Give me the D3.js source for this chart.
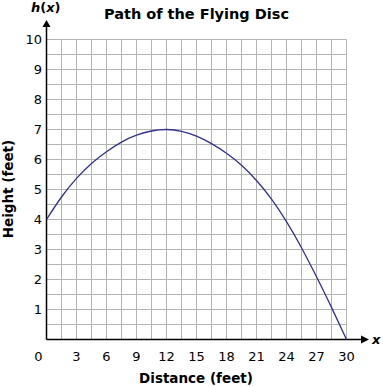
<!DOCTYPE html>
<html>
<head>
<meta charset="utf-8">
<style>
  body { margin: 0; background: #fff; }
  text { font-family: "DejaVu Sans", Verdana, sans-serif; fill: #000; }
</style>
</head>
<body>
<svg width="383" height="387"></svg>
<script src="https://d3js.org/d3.v7.min.js"></script>
<script>

// distance (feet) and height (feet)
var distance = [0, 1.5, 3, 4.5, 6, 7.5, 9, 10.5, 12, 13.5, 15, 16.5, 18, 19.5, 21, 22.5, 24, 25.5, 27, 28.5, 30];
var height = [4.0, 4.75, 5.37, 5.87, 6.26, 6.58, 6.81, 6.95, 7.0, 6.94, 6.78, 6.53, 6.21, 5.81, 5.30, 4.68, 3.93, 3.06, 2.09, 1.07, 0];

var xTicks = [0, 3, 6, 9, 12, 15, 18, 21, 24, 27, 30];
var yTicks = [1, 2, 3, 4, 5, 6, 7, 8, 9, 10];

var svg = d3.select("svg");

var x = d3.scaleLinear().domain([0, 30]).range([46.5, 346.5]);
var y = d3.scaleLinear().domain([0, 10]).range([339.5, 39.5]);

// grid
var grid = svg.append("g").attr("stroke", "#b3b3b3").attr("stroke-width", 1);
grid.selectAll("line.v")
  .data(d3.range(1.5, 30.01, 1.5))
  .enter().append("line")
    .attr("x1", function(d) { return x(d); })
    .attr("x2", function(d) { return x(d); })
    .attr("y1", y(0))
    .attr("y2", y(10));
grid.selectAll("line.h")
  .data(d3.range(0.5, 10.01, 0.5))
  .enter().append("line")
    .attr("x1", x(0))
    .attr("x2", x(30))
    .attr("y1", function(d) { return y(d); })
    .attr("y2", function(d) { return y(d); });

// axes with arrows
svg.append("line")
    .attr("x1", x(0)).attr("x2", x(0))
    .attr("y1", y(0)).attr("y2", 25)
    .attr("stroke", "#000").attr("stroke-width", 1.5);
svg.append("path")
    .attr("d", "M" + x(0) + ",20L" + (x(0) - 4) + ",27L" + (x(0) + 4) + ",27Z")
    .attr("fill", "#000");
svg.append("line")
    .attr("x1", x(0)).attr("x2", 363)
    .attr("y1", y(0)).attr("y2", y(0))
    .attr("stroke", "#000").attr("stroke-width", 1.5);
svg.append("path")
    .attr("d", "M369," + y(0) + "L361," + (y(0) - 4) + "L361," + (y(0) + 4) + "Z")
    .attr("fill", "#000");

// tick labels
svg.selectAll("text.yt")
  .data(yTicks)
  .enter().append("text")
    .attr("x", 42)
    .attr("y", function(d) { return y(d); })
    .attr("dy", "0.36em")
    .attr("text-anchor", "end")
    .attr("font-size", 13)
    .text(function(d) { return d; });

svg.selectAll("text.xt")
  .data(xTicks)
  .enter().append("text")
    .attr("x", function(d) { return d === 0 ? x(d) - 8 : x(d); })
    .attr("y", 361)
    .attr("text-anchor", "middle")
    .attr("font-size", 13)
    .text(function(d) { return d; });

// curve
var line = d3.line()
    .x(function(d, i) { return x(distance[i]); })
    .y(function(d) { return y(d); })
    .curve(d3.curveNatural);

svg.append("path")
    .datum(height)
    .attr("fill", "none")
    .attr("stroke", "#303090")
    .attr("stroke-width", 1.3)
    .attr("d", line);

// titles
svg.append("text")
    .attr("x", 196.5).attr("y", 19)
    .attr("text-anchor", "middle")
    .attr("font-size", 14.5)
    .attr("font-weight", "bold")
    .text("Path of the Flying Disc");

svg.append("text")
    .attr("x", 196).attr("y", 383)
    .attr("text-anchor", "middle")
    .attr("font-size", 13.5)
    .attr("font-weight", "bold")
    .text("Distance (feet)");

svg.append("text")
    .attr("transform", "translate(13,189) rotate(-90)")
    .attr("text-anchor", "middle")
    .attr("font-size", 13.5)
    .attr("font-weight", "bold")
    .text("Height (feet)");

var hx = svg.append("text")
    .attr("x", 31).attr("y", 12)
    .attr("font-size", 13)
    .attr("font-weight", "bold");
hx.append("tspan").attr("font-style", "italic").text("h");
hx.append("tspan").text("(");
hx.append("tspan").attr("font-style", "italic").text("x");
hx.append("tspan").text(")");

svg.append("text")
    .attr("x", 372).attr("y", 344)
    .attr("font-size", 13)
    .attr("font-weight", "bold")
    .attr("font-style", "italic")
    .text("x");

</script>
</body>
</html>
